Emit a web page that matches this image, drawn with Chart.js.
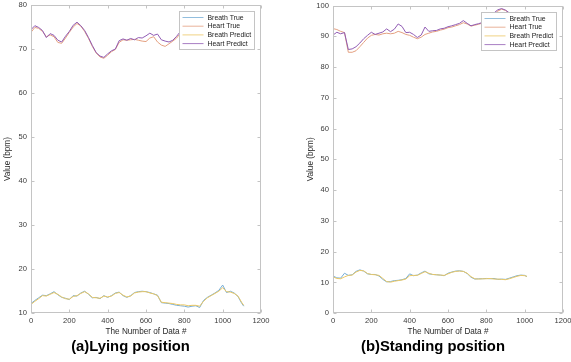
<!DOCTYPE html>
<html>
<head>
<meta charset="utf-8">
<script src="https://cdn.jsdelivr.net/npm/chart.js@4.4.0/dist/chart.umd.min.js"></script>
<style>
  html, body { margin: 0; padding: 0; background: #fff; }
  #wrapA { position: absolute; left: 0; top: 0; width: 285px; height: 362px; }
  #wrapB { position: absolute; left: 285px; top: 0; width: 286px; height: 362px; }
</style>
</head>
<body>
<div id="wrapA"><canvas id="lying"></canvas></div>
<div id="wrapB"><canvas id="standing"></canvas></div>
<script>
"use strict";

var seriesNames = ["Breath True", "Heart True", "Breath Predict", "Heart Predict"];
var seriesColors = ["rgb(118,173,214)", "rgb(228,160,128)", "rgb(236,200,100)", "rgb(145,92,180)"];

// (a) lying position
var lyingX = [0,20,40,60,80,100,120,140,160,180,200,220,240,260,280,300,320,340,360,380,
  400,420,440,460,480,500,520,540,560,580,600,620,640,660,680,700,720,740,760,780,
  800,820,840,860,880,900,920,940,960,980,1000,1020,1040,1060,1080,1100,1110];
var lyingBreathTrue = [12.2,12.9,13.5,14.1,14.0,14.4,14.9,14.2,13.6,13.4,13.1,14.0,13.9,14.6,15.0,14.3,13.5,13.6,13.3,14.0,
  13.6,14.0,14.6,14.8,14.0,13.6,14.0,14.7,14.9,15.0,14.9,14.7,14.4,14.1,12.4,12.3,12.2,12.0,11.8,11.7,
  11.6,11.4,11.6,11.7,11.3,12.9,13.6,14.1,14.6,15.2,16.4,14.7,15.0,14.6,13.8,12.2,11.6];
var lyingHeartTrue = [73.8,74.9,74.7,74.0,72.8,73.2,72.8,71.5,71.3,72.5,73.8,75.0,75.8,75.2,74.0,72.4,70.6,69.1,68.2,67.9,
  68.6,69.4,69.9,71.5,72.1,72.0,72.1,72.2,72.0,71.8,71.7,72.5,72.8,71.6,70.9,70.6,71.2,71.8,72.5,73.6,
  74.3,74.7,74.6,74.9,74.7,74.4,74.8,74.5,74.7,75.0,74.7,74.3,74.6,74.9,74.6,74.4,74.6];
var lyingBreathPredict = [12.0,12.7,13.3,14.0,13.9,14.3,14.7,14.3,13.7,13.3,13.2,13.8,14.0,14.5,14.9,14.4,13.6,13.5,13.4,13.9,
  13.7,13.9,14.5,14.7,14.1,13.7,13.9,14.6,14.8,14.9,14.9,14.6,14.4,14.0,12.5,12.4,12.3,12.2,12.0,11.9,
  11.9,11.7,11.8,11.8,11.6,12.7,13.5,14.0,14.5,15.0,15.8,14.9,14.8,14.5,13.9,12.4,11.8];
var lyingHeartPredict = [74.4,75.3,74.9,74.2,72.6,73.5,73.1,72.0,71.6,72.9,74.0,75.4,76.1,75.3,74.2,72.6,70.8,69.2,68.4,68.1,
  68.9,69.6,70.0,71.9,72.3,72.0,72.4,72.1,72.6,72.5,73.0,73.6,73.1,73.4,72.1,71.8,71.6,72.0,72.9,74.0,
  74.6,75.0,74.7,75.2,74.8,74.5,75.0,74.6,74.9,75.3,74.8,74.4,74.9,75.2,74.7,74.5,74.8];

// (b) standing position
var standingX = [0,20,40,60,80,100,120,140,160,180,200,220,240,260,280,300,320,340,360,380,
  400,420,440,460,480,500,520,540,560,580,600,620,640,660,680,700,720,740,760,780,
  800,820,840,860,880,900,920,940,960,980,1000,1012];
var standingBreathTrue = [12.1,11.5,11.4,13.0,12.3,12.5,13.6,14.1,13.7,12.8,12.6,12.6,12.1,11.0,10.2,10.3,10.6,10.7,10.9,11.3,
  12.8,12.2,12.4,13.1,13.7,12.8,12.6,12.5,12.4,12.2,13.0,13.4,13.7,13.8,13.6,12.9,11.7,11.1,11.2,11.2,
  11.3,11.2,11.3,11.0,11.1,11.0,11.4,11.8,12.2,12.4,12.3,11.9];
var standingHeartTrue = [92.5,92.2,91.6,91.2,84.8,84.8,85.3,86.6,88.0,89.4,90.3,90.6,90.4,90.8,91.0,90.8,91.0,91.6,91.2,90.6,
  90.3,89.7,89.2,89.7,90.6,91.0,91.4,91.6,92.0,92.3,92.8,93.0,93.4,93.8,94.4,94.0,93.3,93.6,93.9,94.3,
  95.0,96.0,97.2,98.2,98.8,98.4,97.5,97.1,97.3,96.9,97.1,96.9];
var standingBreathPredict = [11.8,11.3,11.2,11.8,12.3,12.4,13.4,13.9,13.8,12.9,12.6,12.5,12.3,11.3,10.3,10.1,10.4,10.6,10.8,11.1,
  12.2,12.3,12.3,12.9,13.5,13.0,12.6,12.5,12.4,12.3,12.8,13.3,13.6,13.7,13.6,13.0,11.9,11.2,11.1,11.2,
  11.2,11.3,11.1,11.1,11.0,10.9,11.2,11.6,12.0,12.3,12.2,12.0];
var standingHeartPredict = [90.4,91.3,90.8,91.2,85.7,85.9,86.6,87.8,89.2,90.3,91.3,90.6,91.0,91.4,92.4,91.5,92.3,94.0,93.2,91.2,
  91.3,90.6,89.6,90.4,93.0,91.6,91.8,91.9,92.4,92.6,93.1,93.4,93.8,94.2,95.1,94.2,93.4,93.8,94.1,94.5,
  95.3,96.4,97.6,98.6,99.0,98.5,97.6,97.2,97.5,97.0,97.3,97.1];

var xTicks = { min: 0, max: 1200, step: 200 };
var lyingY = { min: 10, max: 80, step: 10 };
var standingY = { min: 0, max: 100, step: 10 };

var tickFont = { family: "'Liberation Sans', Arial, sans-serif", size: 7.6 };
var labelFont = { family: "'Liberation Sans', Arial, sans-serif", size: 8.2 };

// box round the axes, inward ticks on all four sides, legend in the corner
const matlabFrame = {
  id: 'matlabFrame',
  afterDatasetsDraw(chart) {
    const ctx = chart.ctx;
    const a = chart.chartArea;
    const sx = chart.scales.x, sy = chart.scales.y;
    const L = Math.round(a.left) + 0.5, R = Math.round(a.right) - 0.5;
    const T = Math.round(a.top) + 0.5, B = Math.round(a.bottom) - 0.5;
    ctx.save();
    ctx.strokeStyle = '#c4c4c4';
    ctx.lineWidth = 1;
    ctx.strokeRect(L, T, R - L, B - T);
    ctx.beginPath();
    sx.ticks.forEach(function(t){
      const px = Math.round(sx.getPixelForValue(t.value)) + 0.5;
      ctx.moveTo(px, B); ctx.lineTo(px, B - 3);
      ctx.moveTo(px, T); ctx.lineTo(px, T + 3);
    });
    sy.ticks.forEach(function(t){
      const py = Math.round(sy.getPixelForValue(t.value)) + 0.5;
      ctx.moveTo(L, py); ctx.lineTo(L + 3, py);
      ctx.moveTo(R, py); ctx.lineTo(R - 3, py);
    });
    ctx.stroke();

    // legend
    const bw = 75, bh = 38;
    const bx = Math.round(a.right - 7 - bw) + 0.5, by = Math.round(a.top + 6) + 0.5;
    ctx.fillStyle = '#fff';
    ctx.fillRect(bx, by, bw, bh);
    ctx.strokeStyle = '#c4c4c4';
    ctx.strokeRect(bx, by, bw, bh);
    ctx.font = "6.9px 'Liberation Sans', Arial, sans-serif";
    ctx.textBaseline = 'middle';
    ctx.textAlign = 'left';
    chart.data.datasets.forEach(function(ds, i){
      const ly = by + 6 + i * 8.7;
      ctx.strokeStyle = ds.borderColor;
      ctx.lineWidth = 0.8;
      ctx.beginPath();
      ctx.moveTo(bx + 3, ly); ctx.lineTo(bx + 24, ly);
      ctx.stroke();
      ctx.fillStyle = '#222';
      ctx.fillText(ds.label, bx + 28, ly + 0.3);
    });
    ctx.restore();
  }
};

function plain(v) { return String(v); }

function makeChart(id, xs, series, yRange, caption, pad, yWidth) {
  const datasets = series.map(function(vals, i){
    return {
      label: seriesNames[i],
      data: xs.map(function(x, k){ return { x: x, y: vals[k] }; }),
      borderColor: seriesColors[i],
      borderWidth: 1,
      pointRadius: 0,
      tension: 0,
      order: series.length - i
    };
  });
  return new Chart(document.getElementById(id), {
    type: 'line',
    data: { datasets: datasets },
    options: {
      responsive: true,
      maintainAspectRatio: false,
      animation: false,
      layout: { padding: pad },
      plugins: {
        legend: { display: false },
        tooltip: { enabled: false },
        title: {
          display: true,
          text: caption,
          position: 'bottom',
          color: '#000',
          font: { family: "'Liberation Sans', Arial, sans-serif", size: 14.8, weight: 'bold', lineHeight: 1.2 },
          padding: { top: 2, bottom: 6 }
        }
      },
      scales: {
        x: {
          type: 'linear',
          min: xTicks.min, max: xTicks.max,
          grid: { display: false, drawTicks: false },
          border: { display: false },
          ticks: { stepSize: xTicks.step, autoSkip: false, maxRotation: 0, padding: 3, color: '#3a3a3a', font: tickFont, callback: plain },
          title: { display: true, text: 'The Number of Data #', color: '#2a2a2a', font: labelFont, padding: { top: 0, bottom: 0 } },
          afterFit: function(s){ s.height = 23; s.paddingLeft = 0; s.paddingRight = 0; }
        },
        y: {
          min: yRange.min, max: yRange.max,
          grid: { display: false, drawTicks: false },
          border: { display: false },
          ticks: { stepSize: yRange.step, padding: 4, color: '#3a3a3a', font: tickFont, callback: plain },
          title: { display: true, text: 'Value (bpm)', color: '#2a2a2a', font: labelFont, padding: { top: 3, bottom: 0 } },
          afterFit: function(s){ s.width = yWidth; s.paddingTop = 0; s.paddingBottom = 0; }
        }
      }
    },
    plugins: [matlabFrame]
  });
}

makeChart('lying', lyingX,
  [lyingBreathTrue, lyingHeartTrue, lyingBreathPredict, lyingHeartPredict],
  lyingY, '(a)Lying position', { top: 5, right: 24, left: 0, bottom: 0 }, 31);

makeChart('standing', standingX,
  [standingBreathTrue, standingHeartTrue, standingBreathPredict, standingHeartPredict],
  standingY, '(b)Standing position', { top: 5.5, right: 8, left: 18, bottom: 0 }, 30);
</script>
</body>
</html>
